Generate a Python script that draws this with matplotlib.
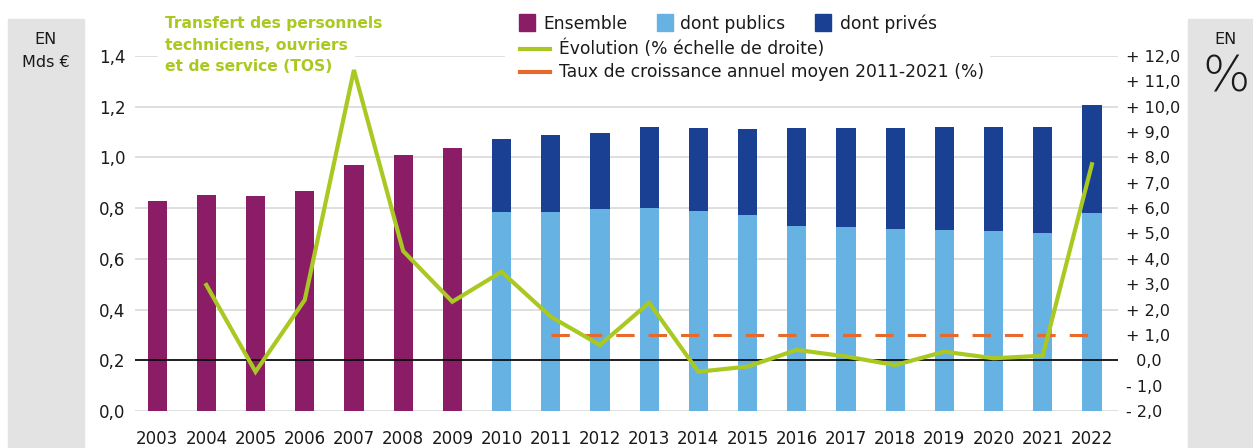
import matplotlib
matplotlib.use("Agg")
import matplotlib.pyplot as plt
from matplotlib.patches import Rectangle
from matplotlib.lines import Line2D
import numpy as np

# ---- data -------------------------------------------------------------
years = list(range(2003, 2023))
ensemble = [0.828, 0.852, 0.848, 0.869, 0.970, 1.009, 1.037]          # 2003-2009
total_2010 = [1.071, 1.088, 1.096, 1.121, 1.116, 1.112, 1.116, 1.117, 1.115,
              1.119, 1.119, 1.121, 1.208]                               # 2010-2022
publics = [0.785, 0.785, 0.795, 0.799, 0.790, 0.772, 0.731, 0.727, 0.719,
           0.715, 0.709, 0.702, 0.781]
evol_years = list(range(2004, 2023))
evolution = [2.97, -0.45, 2.38, 11.45, 4.31, 2.31, 3.49, 1.72, 0.60, 2.27,
             -0.45, -0.25, 0.41, 0.15, -0.19, 0.34, 0.08, 0.18, 7.73]
tcam_years = [2011, 2022]
tcam = [1.0, 1.0]

left_ticks = [0.0, 0.2, 0.4, 0.6, 0.8, 1.0, 1.2, 1.4]
right_ticks = list(range(-2, 13))

PURPLE = "#8B1D67"
LIGHT_BLUE = "#66B2E3"
DARK_BLUE = "#1A4094"
GREEN = "#A9C922"
ORANGE = "#E8692C"
PANEL = "#E3E3E3"
GRID = "#D9D9D9"
TXT = "#1A1A1A"

W, H = 1253, 448
plt.rcParams["font.family"] = ["DejaVu Sans"]
fig = plt.figure(figsize=(W / 100, H / 100), dpi=100)


def fx(px):
    return px / W


def fy(py):
    return 1 - py / H


# grey side panels
fig.add_artist(Rectangle((fx(8), 0), fx(84) - fx(8), fy(19), color=PANEL, zorder=-5,
                         transform=fig.transFigure))
fig.add_artist(Rectangle((fx(1188), 0), 1 - fx(1188), fy(19), color=PANEL, zorder=-5,
                         transform=fig.transFigure))
fig.text(fx(46), fy(39), "EN", ha="center", va="center", fontsize=11.5, color=TXT)
fig.text(fx(46), fy(62), "Mds €", ha="center", va="center", fontsize=11.5, color=TXT)
fig.text(fx(1226), fy(40), "EN", ha="center", va="center", fontsize=11.5, color=TXT)
fig.text(fx(1226), fy(77), "%", ha="center", va="center", fontsize=36, color=TXT,
         fontweight=200)

ax = fig.add_axes([fx(135), fy(411), fx(1118) - fx(135), fy(56) - fy(411)])
ax.patch.set_alpha(0)
width = 0.39
ax.bar(years[:7], ensemble, width, color=PURPLE, zorder=2)
ax.bar(years[7:], publics, width, color=LIGHT_BLUE, zorder=2)
ax.bar(years[7:], np.array(total_2010) - np.array(publics), width, bottom=publics,
       color=DARK_BLUE, zorder=2)
ax.set_xlim(2002.55, 2022.53)
ax.set_ylim(0, 1.4)
ax.set_yticks(left_ticks)
ax.set_yticklabels([f"{v:.1f}".replace(".", ",") for v in left_ticks])
ax.set_xticks(years)
ax.set_xticklabels([str(y) for y in years])
ax.grid(axis="y", color=GRID, linewidth=1.2, zorder=0)
ax.set_axisbelow(True)
for s in ax.spines.values():
    s.set_visible(False)
ax.tick_params(axis="both", length=0, labelsize=12, colors=TXT)
ax.tick_params(axis="x", pad=14)
ax.tick_params(axis="y", pad=7)

ax2 = ax.twinx()
ax2.set_ylim(-2, 12)
ax2.set_yticks(right_ticks)
ax2.set_yticklabels([("+ " if v > 0 else ("- " if v < 0 else "  ")) + f"{abs(v):.1f}".replace(".", ",")
                     for v in right_ticks])
for s in ax2.spines.values():
    s.set_visible(False)
ax2.tick_params(axis="y", length=0, labelsize=11.5, colors=TXT, pad=6)
ax2.axhline(0, color="black", linewidth=1.2, zorder=2)
ax2.plot(tcam_years, tcam, color=ORANGE, linewidth=2.2, dashes=(6, 4.6), zorder=3)
ax2.plot(evol_years, evolution, color=GREEN, linewidth=3, zorder=4, solid_joinstyle="miter")

# white gaps in the top gridline behind the texts
for x0, x1 in [(158, 354), (505, 989)]:
    fig.add_artist(Rectangle((fx(x0), fy(62)), fx(x1) - fx(x0), fy(50) - fy(62), color="white",
                             zorder=1, transform=fig.transFigure))

fig.text(fx(165), fy(16), "Transfert des personnels\ntechniciens, ouvriers\net de service (TOS)",
         ha="left", va="top", fontsize=11.2, fontweight="bold", color=GREEN, linespacing=1.55,
         zorder=3)

# legend, drawn by hand
for (x0, col, label, tx) in [(519, PURPLE, "Ensemble", 543), (657, LIGHT_BLUE, "dont publics", 680),
                             (815, DARK_BLUE, "dont privés", 840)]:
    fig.add_artist(Rectangle((fx(x0), fy(31)), fx(16), fy(14) - fy(31), color=col, zorder=3,
                             transform=fig.transFigure))
    fig.text(fx(tx), fy(24), label, ha="left", va="center", fontsize=12.3, color=TXT, zorder=3)
for (yy, col, label) in [(49, GREEN, "Évolution (% échelle de droite)"),
                         (72, ORANGE, "Taux de croissance annuel moyen 2011-2021 (%)")]:
    fig.add_artist(Line2D([fx(520), fx(550)], [fy(yy), fy(yy)], color=col, linewidth=3,
                          transform=fig.transFigure, zorder=3))
    fig.text(fx(559), fy(yy), label, ha="left", va="center", fontsize=12.3, color=TXT, zorder=3)

fig.savefig("out.png", dpi=100)
